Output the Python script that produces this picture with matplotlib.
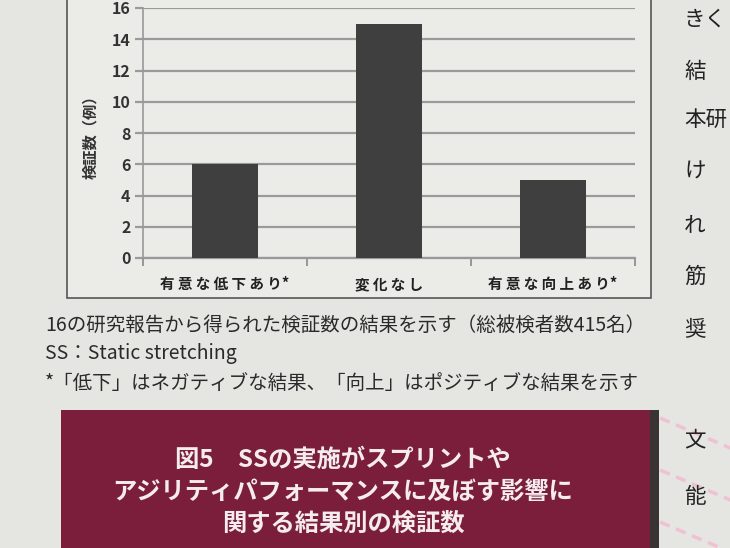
import numpy as np
import matplotlib
matplotlib.use('Agg')
from matplotlib import pyplot as plt
from matplotlib.patches import Rectangle

plt.rcParams['font.family'] = ['Noto Sans CJK JP', 'DejaVu Sans']

###### Data
categories = ['有 意 な 低 下 あ り*', '変 化 な し', '有 意 な 向 上 あ り*']
counts = [6, 15, 5]
y_ticks = [0, 2, 4, 6, 8, 10, 12, 14, 16]

caption_lines = ['16の研究報告から得られた検証数の結果を示す（総被検者数415名）',
                 'SS：Static stretching',
                 '*「低下」はネガティブな結果、「向上」はポジティブな結果を示す']
title_lines = ['図5　SSの実施がスプリントや',
               'アジリティパフォーマンスに及ぼす影響に',
               '関する結果別の検証数']
side_chars = ['きく', '結', '本研', 'け', 'れ', '筋', '奨', '文', '能']
side_y = [20, 72, 120, 172, 225, 277, 330, 440, 497]

W, H = 730, 548
paper = '#e5e5e2'
fig = plt.figure(figsize=(W / 100, H / 100), dpi=100, facecolor=paper)

###### Page background layer (pixel coords)
bg = fig.add_axes([0, 0, 1, 1])
bg.set_xlim(0, W)
bg.set_ylim(H, 0)
bg.axis('off')
bg.add_patch(Rectangle((67, -5), 584, 303, facecolor='#ebebe8', edgecolor='#555555', lw=1.2))
bg.add_patch(Rectangle((61, 410), 592, 145, facecolor='#7b1e3c', edgecolor='none'))
bg.add_patch(Rectangle((650, 410), 9, 145, facecolor='#3a3334', edgecolor='none'))

# pink dashes on the page margin
for y0 in [418, 470, 522]:
    bg.plot([660, 735], [y0, y0 + 32], color='#f5b3cd', lw=2.5, ls=(0, (3, 2)), alpha=0.7)

for i, line in enumerate(caption_lines):
    bg.text(45, 325 + i * 29, line, fontsize=14, color='#2a2a2a', va='center', ha='left')

for i, line in enumerate(title_lines):
    bg.text(343, 460 + i * 32, line, fontsize=17.5, color='#f4ecee', va='center', ha='center',
            fontweight='bold')

for ch, y in zip(side_chars, side_y):
    bg.text(684, y, ch, fontsize=15.5, color='#222222', va='center', ha='left')

###### Bar chart
ax = fig.add_axes([143 / W, (H - 258) / H, (635 - 143) / W, 250 / H])
ax.set_facecolor('none')
x = np.arange(len(categories))
ax.bar(x, counts, width=0.4, color='#3f3f3f', zorder=3)
ax.set_xlim(-0.5, len(categories) - 0.5)
ax.set_ylim(0, 16)
ax.set_yticks(y_ticks)
ax.set_yticklabels([str(t) for t in y_ticks], fontsize=11.5, fontweight='bold', color='#333333')
ax.yaxis.grid(True, color='#9a9a9a', lw=1.6, zorder=0)
ax.set_xticks(x)
ax.set_xticklabels(categories, fontsize=10.5, fontweight='bold', color='#222222')
ax.set_xticks(np.arange(-0.5, len(categories)), minor=True)
ax.tick_params(axis='x', which='major', length=0, pad=13)
ax.tick_params(axis='x', which='minor', length=6, color='#888888', width=1.2)
ax.tick_params(axis='y', length=6, color='#9a9a9a', width=1.6, pad=3)
for s in ['top', 'right']:
    ax.spines[s].set_visible(False)
ax.spines['left'].set_color('#999999')
ax.spines['bottom'].set_color('#999999')
ax.spines['left'].set_linewidth(1.2)
ax.spines['bottom'].set_linewidth(1.6)
ax.set_ylabel('検証数（例）', fontsize=11, fontweight='bold', color='#333333', labelpad=10)

fig.savefig('out.png', dpi=100, facecolor=paper)
